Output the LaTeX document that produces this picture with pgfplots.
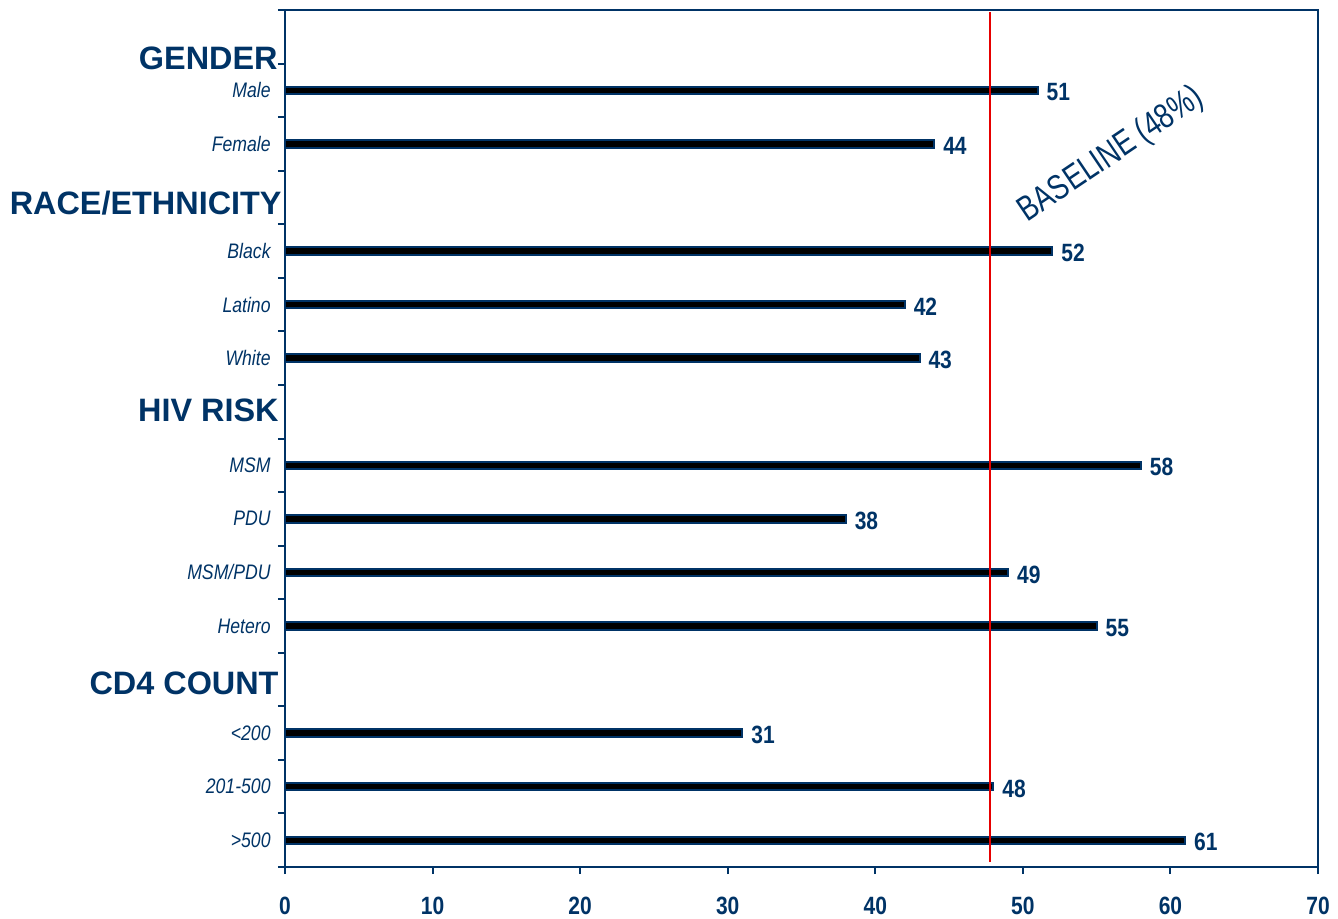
\documentclass[border=0pt]{standalone}
\usepackage{pgfplots}
\pgfplotsset{compat=1.18}
\usepackage{fontspec}
\setmainfont{Liberation Sans}
\newfontfamily\narrow[FakeStretch=0.84]{Liberation Sans}
\newfontfamily\baselinefont[FakeStretch=0.78]{Liberation Sans}
\definecolor{navy}{RGB}{0,51,102}
\definecolor{baseRed}{RGB}{230,0,0}

\begin{document}
\begin{tikzpicture}
\begin{axis}[
  scale only axis,
  width=516.5pt, height=428.5pt,
  xmin=0, xmax=70,
  ymin=-0.5, ymax=15.5,
  y dir=reverse,
  axis line style={navy, line width=1pt},
  every tick/.style={navy, line width=1pt},
  xtick={0,10,...,70},
  xtick pos=bottom,
  tick align=outside,
  major tick length=3.5pt,
  ytick={-0.5,0.5,...,15.5},
  yticklabels={},
  ytick pos=left,
  extra y ticks={1,2,4,5,6,8,9,10,11,13,14,15},
  extra y tick labels={Male,Female,Black\ ,Latino,White,MSM,PDU,MSM/PDU,Hetero,<200,201-500,>500},
  extra y tick style={major tick length=0pt,
    yticklabel style={font=\narrow\fontsize{10.5}{12}\selectfont\itshape, text=navy, inner sep=0pt, xshift=-7pt}},
  /pgf/number format/assume math mode=true,
  xticklabel style={font=\narrow\fontsize{12.5}{14}\selectfont\bfseries, text=navy, yshift=-8pt},
  clip=false,
  bar shift=0pt, bar width=3.7pt,
]
% share of each group, in percent
\addplot[xbar, draw=navy, fill=black, line width=1pt,
  nodes near coords,
  every node near coord/.append style={font=\narrow\fontsize{12.5}{14}\selectfont\bfseries, text=navy,
    anchor=west, inner sep=0pt, xshift=4pt, yshift=-1pt}] coordinates {
  (51,1) (44,2)
  (52,4) (42,5) (43,6)
  (58,8) (38,9) (49,10) (55,11)
  (31,13) (48,14) (61,15)
};
% overall baseline
\addplot[sharp plot, color=baseRed, line width=1pt, mark=none] coordinates {(47.8,-0.46) (47.8,15.41)};

% group headings
\begin{scope}[every node/.style={font=\fontsize{16.2}{18}\selectfont\bfseries, text=navy, anchor=east, inner sep=0pt}]
\node at (axis cs:0,0.40) [xshift=-3.5pt] {GENDER};
\node at (axis cs:0,3.10) [xshift=-1.5pt] {RACE/ETHNICITY};
\node at (axis cs:0,6.97) [xshift=-3pt] {HIV RISK};
\node at (axis cs:0,12.07) [xshift=-3pt] {CD4 COUNT};
\end{scope}
\node[rotate=34, text=navy, font=\baselinefont\fontsize{17.5}{19}\selectfont, inner sep=0pt] at (axis cs:56.0,2.21) {BASELINE (48\%)};
\end{axis}
\pgfresetboundingbox
\useasboundingbox ([shift={(-142.5pt,433.5pt)}]current axis.south west) rectangle ([shift={(526.5pt,-26pt)}]current axis.south west);
\end{tikzpicture}
\end{document}
